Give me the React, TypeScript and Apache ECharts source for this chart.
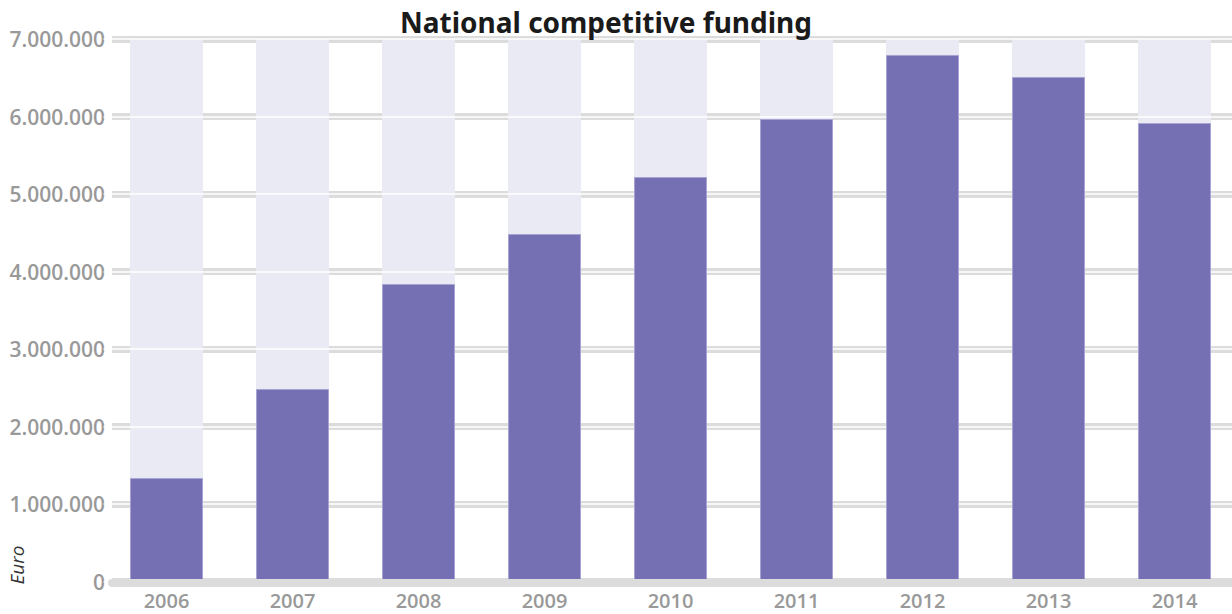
import React, { useEffect, useRef } from "react";
import * as echarts from "echarts";

const years = ["2006", "2007", "2008", "2009", "2010", "2011", "2012", "2013", "2014"];
const funding = [1335000, 2484000, 3839000, 4484000, 5219000, 5968000, 6794000, 6510000, 5916000];
const axisMax = 7000000;
const axisStep = 1000000;
const titleText = "National competitive funding";
const unitLabel = "Euro";

const fmt = (v: number) => String(Math.round(v)).replace(/\B(?=(\d{3})+(?!\d))/g, ".");

export default function App() {
  const ref = useRef<HTMLDivElement>(null);
  useEffect(() => {
    if (!ref.current) return;
    const chart = echarts.init(ref.current, undefined, { renderer: "svg" });
    const font = "'Open Sans', sans-serif";
    chart.setOption({
      animation: false,
      backgroundColor: "#ffffff",
      grid: [
        { left: 112, right: 0, top: 39, bottom: 32.5 },
        { left: 103.5, right: 2.5, top: 39, bottom: 32.5 },
      ],
      xAxis: [
        {
          type: "category",
          gridIndex: 0,
          data: years,
          z: 4,
          offset: 1.5,
          axisLine: { show: true, onZero: false, lineStyle: { color: "#dcdcdc", width: 8 } },
          axisTick: { show: false },
          axisLabel: { show: false },
          splitLine: { show: false },
        },
        {
          type: "category",
          gridIndex: 1,
          data: years,
          axisLine: { show: false },
          axisTick: { show: false },
          axisLabel: {
            color: "#999999",
            fontSize: 20,
            fontWeight: 600,
            fontFamily: font,
            margin: 9,
          },
        },
      ],
      yAxis: [
        {
          type: "value",
          gridIndex: 0,
          min: 0,
          max: axisMax,
          interval: axisStep,
          z: 0,
          axisLine: { show: false },
          axisTick: { show: false },
          axisLabel: {
            color: "#999999",
            fontSize: 21,
            fontWeight: 600,
            fontFamily: font,
            margin: 7,
            formatter: (v: number) => fmt(v),
          },
          splitLine: { show: true, lineStyle: { color: "#dcdcdc", width: 7 } },
        },
        {
          type: "value",
          gridIndex: 1,
          min: 0,
          max: axisMax,
          interval: axisStep,
          z: 2,
          axisLine: { show: false },
          axisTick: { show: false },
          axisLabel: { show: false },
          splitLine: { show: true, lineStyle: { color: "#ffffff", width: 1.5 } },
        },
      ],
      series: [
        {
          type: "bar",
          xAxisIndex: 1,
          yAxisIndex: 1,
          z: 1,
          silent: true,
          barWidth: 73,
          barGap: "-100%",
          itemStyle: { color: "#eaeaf4" },
          data: years.map(() => axisMax),
        },
        {
          type: "bar",
          xAxisIndex: 1,
          yAxisIndex: 1,
          z: 3,
          barWidth: 73,
          barGap: "-100%",
          itemStyle: { color: "#7570b3", borderColor: "#a7a3d2", borderWidth: 1 },
          data: funding,
        },
      ],
      graphic: [
        {
          type: "text",
          x: 606,
          y: 8,
          z: 10,
          style: {
            text: titleText,
            fill: "#1a1a1a",
            font: "bold 28px 'Noto Sans', sans-serif",
            textAlign: "center",
            textVerticalAlign: "top",
          },
        },
        {
          type: "text",
          x: 17,
          y: 565,
          rotation: Math.PI / 2,
          z: 10,
          style: {
            text: unitLabel,
            fill: "#333333",
            font: "italic 19px 'Open Sans', sans-serif",
            textAlign: "center",
            textVerticalAlign: "middle",
          },
        },
      ],
    });
    return () => chart.dispose();
  }, []);
  return (
    <div style={{ position: "fixed", left: 0, top: 0, width: 1232, height: 614, overflow: "hidden" }}>
      <div ref={ref} style={{ width: 1240, height: 614 }} />
    </div>
  );
}
